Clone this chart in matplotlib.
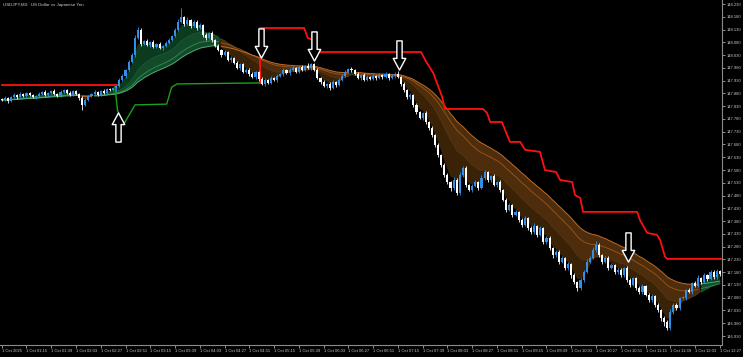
import numpy as np
import matplotlib
matplotlib.use("Agg")
import matplotlib.pyplot as plt
import matplotlib.transforms as mtransforms
from matplotlib.path import Path

# ------------------------------------
# chart data
# ------------------------------------
title = "USDJPY,M3:  US Dollar vs Japanese Yen"

first_open = 147.858
closes = [
    147.854, 147.862, 147.851, 147.866, 147.874, 147.866, 147.878, 147.870, 147.882, 147.874, 147.866,
    147.870, 147.878, 147.886, 147.874, 147.882, 147.890, 147.878, 147.870, 147.886, 147.894,
    147.882, 147.874, 147.890, 147.878, 147.862, 147.835,
    147.854, 147.870, 147.878, 147.886, 147.874,
    147.890, 147.882, 147.897, 147.894, 147.901, 147.909,
    147.933, 147.948, 147.972, 148.003, 148.031,
    148.097, 148.129, 148.074, 148.085,
    148.070, 148.082, 148.062, 148.074, 148.058, 148.066,
    148.078, 148.089, 148.105, 148.129,
    148.160, 148.179, 148.152,
    148.168, 148.144, 148.160, 148.136, 148.148,
    148.109, 148.097, 148.117, 148.089,
    148.066, 148.050, 148.031, 148.042, 148.011, 148.019,
    147.999, 147.980, 147.995, 147.964, 147.972, 147.956,
    147.944, 147.964, 147.937, 147.917, 147.933,
    147.921, 147.941, 147.933, 147.948, 147.956, 147.972, 147.960,
    147.972, 147.980, 147.964, 147.984, 147.972, 147.988, 147.980, 147.995,
    147.972, 147.941, 147.925, 147.909, 147.917, 147.901,
    147.925, 147.913, 147.933, 147.948, 147.964, 147.976,
    147.972, 147.956, 147.941, 147.952, 147.933, 147.944,
    147.937, 147.948, 147.941, 147.952, 147.944, 147.956, 147.941, 147.948, 147.956,
    147.944, 147.917, 147.894, 147.866, 147.874, 147.835,
    147.807, 147.784, 147.803, 147.768, 147.745, 147.717,
    147.678, 147.639, 147.600, 147.561, 147.533, 147.510,
    147.541, 147.490, 147.561, 147.588, 147.522,
    147.502, 147.518, 147.533, 147.510, 147.549, 147.572,
    147.541, 147.557, 147.522, 147.533, 147.502,
    147.463, 147.424, 147.443, 147.404, 147.416, 147.384,
    147.365, 147.392, 147.353, 147.337, 147.361, 147.326,
    147.353, 147.298, 147.314, 147.275, 147.247,
    147.259, 147.220, 147.236, 147.197, 147.212, 147.169,
    147.142, 147.118, 147.150, 147.181, 147.220,
    147.236, 147.267, 147.287, 147.247, 147.220,
    147.236, 147.197, 147.208, 147.181, 147.189,
    147.169, 147.197, 147.150, 147.130, 147.157,
    147.118, 147.103, 147.126, 147.091, 147.071,
    147.087, 147.052, 147.032, 147.001, 146.985,
    146.962, 147.024, 147.052, 147.040, 147.079,
    147.079, 147.110, 147.103, 147.138, 147.126,
    147.157, 147.142, 147.169, 147.153, 147.181, 147.161, 147.185, 147.173,
]

# wick lengths above / below the body, in points (0.001)
wick_up = [
    4, 6, 3, 5, 8, 4, 6, 3, 5, 4,
    3, 5, 7, 4, 6, 3, 5, 8, 4, 6,
    5, 3, 6, 4, 5, 4, 6, 8, 5, 4,
    6, 3, 5, 7, 4, 6, 5, 4, 8, 6,
    5, 9, 7, 10, 12, 6, 5, 8, 4, 6,
    5, 7, 4, 6, 8, 5, 9, 10, 35, 6,
    12, 5, 8, 6, 7, 4, 9, 5, 6, 4,
    6, 5, 8, 4, 7, 5, 6, 4, 5, 8,
    6, 9, 5, 4, 7, 6, 5, 8, 4, 6,
    5, 7, 4, 6, 8, 5, 9, 6, 4, 12,
    5, 4, 6, 5, 7, 4, 6, 8, 5, 6,
    7, 9, 5, 6, 4, 7, 5, 6, 8, 4,
    6, 5, 7, 4, 6, 5, 8, 6, 10, 5,
    6, 4, 8, 5, 7, 6, 4, 9, 5, 6,
    5, 7, 4, 6, 8, 5, 12, 6, 10, 8,
    6, 5, 9, 7, 5, 10, 8, 6, 5, 7,
    4, 6, 5, 8, 7, 5, 6, 4, 8, 9,
    5, 6, 10, 4, 7, 5, 8, 6, 5, 9,
    6, 8, 5, 7, 4, 6, 5, 9, 8, 12,
    7, 10, 14, 6, 5, 8, 6, 7, 5, 6,
    8, 5, 7, 9, 6, 5, 8, 6, 4, 7,
    6, 5, 7, 4, 6, 8, 10, 6, 7, 5,
    8, 6, 9, 5, 7, 10, 6, 8, 5, 9,
    6, 8, 5,
]
wick_dn = [
    5, 4, 7, 3, 5, 6, 4, 5, 3, 6,
    4, 6, 3, 5, 4, 7, 5, 3, 6, 4,
    5, 4, 6, 3, 5, 8, 20, 5, 4, 6,
    4, 5, 3, 6, 4, 5, 6, 10, 5, 4,
    6, 5, 4, 7, 5, 8, 6, 5, 7, 4,
    6, 5, 7, 4, 6, 5, 4, 6, 5, 8,
    5, 7, 4, 6, 5, 8, 6, 5, 7, 6,
    5, 8, 6, 4, 7, 5, 6, 8, 5, 6,
    7, 5, 6, 9, 5, 7, 4, 6, 5, 7,
    4, 6, 5, 7, 4, 6, 5, 4, 6, 5,
    7, 5, 6, 8, 5, 9, 6, 5, 7, 4,
    6, 5, 4, 7, 5, 6, 8, 5, 6, 4,
    5, 7, 4, 6, 5, 7, 4, 6, 5, 8,
    9, 6, 7, 10, 8, 6, 9, 7, 8, 6,
    9, 7, 10, 8, 6, 12, 7, 9, 6, 8,
    7, 5, 8, 6, 9, 5, 7, 6, 8, 5,
    7, 10, 6, 8, 5, 9, 6, 8, 7, 5,
    8, 6, 7, 9, 5, 8, 6, 7, 10, 6,
    8, 6, 9, 7, 12, 8, 10, 6, 7, 5,
    6, 5, 8, 6, 7, 5, 9, 6, 8, 7,
    6, 9, 7, 10, 6, 8, 7, 9, 6, 8,
    7, 9, 8, 12, 15, 10, 8, 6, 7, 9,
    6, 8, 5, 7, 6, 5, 8, 6, 7, 5,
    8, 6, 7,
]

time_labels = [
    "1 Oct 2025", "1 Oct 01:15", "1 Oct 01:39", "1 Oct 02:03", "1 Oct 02:27",
    "1 Oct 02:51", "1 Oct 03:15", "1 Oct 03:39", "1 Oct 04:03", "1 Oct 04:27",
    "1 Oct 04:51", "1 Oct 05:15", "1 Oct 05:39", "1 Oct 06:03", "1 Oct 06:27",
    "1 Oct 06:51", "1 Oct 07:15", "1 Oct 07:39", "1 Oct 08:03", "1 Oct 08:27",
    "1 Oct 08:51", "1 Oct 09:15", "1 Oct 09:39", "1 Oct 10:03", "1 Oct 10:27",
    "1 Oct 10:51", "1 Oct 11:15", "1 Oct 11:39", "1 Oct 12:03", "1 Oct 12:27",
]
price_ticks = [
    148.230, 148.180, 148.130, 148.080, 148.030, 147.980, 147.930, 147.880,
    147.830, 147.780, 147.730, 147.680, 147.630, 147.580, 147.530, 147.480,
    147.430, 147.380, 147.330, 147.280, 147.230, 147.180, 147.130, 147.080,
    147.030, 146.980, 146.930,
]

# trailing stop line (bar index, price)
red_a_bar = [0, 37.6]
red_a_px = [147.913, 147.913]
green_bar = [36.6, 37.4, 39.3, 43.1, 53.3, 54.9, 56.6, 83.5]
green_px = [147.906, 147.815, 147.757, 147.835, 147.838, 147.904, 147.917, 147.921]
red_b_bar = [83.5, 83.5, 97.7, 98.9, 100.6, 102.2, 135.5, 136.8, 139.4, 142.3,
             143.2, 155.5, 156.8, 157.8, 161.6, 162.6, 164.2, 167.5, 169.1, 173.9,
             175.5, 179.1, 180.4, 184.3, 185.2, 186.9, 187.8, 205.3, 206.2, 208.5,
             211.7, 212.7, 214.3, 215.0, 233.0]
red_b_px = [147.921, 148.136, 148.136, 148.097, 148.089, 148.042, 148.042, 148.011, 147.960, 147.866,
            147.819, 147.819, 147.803, 147.768, 147.768, 147.737, 147.690, 147.690, 147.659, 147.651,
            147.580, 147.572, 147.541, 147.533, 147.482, 147.471, 147.416, 147.416, 147.384, 147.334,
            147.326, 147.306, 147.240, 147.232, 147.232]

# signal arrows (bar index, price at arrow centre)
arrow_bar = [37.6, 83.8, 101.0, 128.4, 202.4]
arrow_px = [147.749, 148.078, 148.064, 148.029, 147.277]
arrow_dir = ["up", "down", "down", "down", "down"]


def ema(v, n):
    a = 2.0 / (n + 1)
    out = np.empty(len(v))
    out[0] = v[0]
    for i in range(1, len(v)):
        out[i] = a * v[i] + (1 - a) * out[i - 1]
    return out


c = np.array(closes)
o = np.r_[first_open, c[:-1]]
hi = np.maximum(o, c) + np.array(wick_up) * 0.001
lo = np.minimum(o, c) - np.array(wick_dn) * 0.001
x = np.arange(len(c))

e_fast = ema(c, 4)
e_m1 = ema(c, 16)
e_m2 = ema(c, 28)
e_slow = ema(c, 36)
bull = e_fast >= e_slow

blue = "#2f8fea"
fnt = "Liberation Sans"
fig = plt.figure(figsize=(7.43, 3.57), dpi=100, facecolor="black")
ax = fig.add_axes([0, 12 / 357, 722 / 743, 345 / 357])
ax.set_facecolor("black")

# ribbon
ax.fill_between(x, e_fast, e_m1, where=bull, interpolate=True, color="#0b3a1f", lw=0, zorder=1)
ax.fill_between(x, e_m1, e_slow, where=bull, interpolate=True, color="#124a2a", lw=0, zorder=1)
ax.fill_between(x, e_fast, e_m1, where=~bull, interpolate=True, color="#3a2207", lw=0, zorder=1)
ax.fill_between(x, e_m1, e_slow, where=~bull, interpolate=True, color="#4d2d0c", lw=0, zorder=1)
for line, gcol, ocol in [(e_m1, "#195a33", "#5a3410"), (e_m2, "#2f8552", "#94511a"),
                         (e_slow, "#4fae74", "#c06a28")]:
    ax.plot(x, np.where(bull, line, np.nan), color=gcol, lw=0.7, zorder=2)
    ax.plot(x, np.where(~bull, line, np.nan), color=ocol, lw=0.7, zorder=2)

# stop lines
ax.plot(red_a_bar, red_a_px, color="#ff1010", lw=1.3, zorder=3)
ax.plot(green_bar, green_px, color="#1aa01a", lw=1.0, zorder=3)
ax.plot(red_b_bar, red_b_px, color="#ff1010", lw=1.3, zorder=3)

# candles
cols = np.where(c >= o, blue, "white")
ax.vlines(x, lo, hi, colors=cols, lw=0.6, zorder=4)
ax.bar(x, np.maximum(np.abs(c - o), 0.002), bottom=np.minimum(o, c), width=0.68,
       color=cols, lw=0, zorder=4)

# arrows
up_verts = [(0, 1), (0.43, 0.2), (0.18, 0.2), (0.18, -1), (-0.18, -1), (-0.18, 0.2), (-0.43, 0.2), (0, 1)]
codes = [Path.MOVETO] + [Path.LINETO] * 6 + [Path.CLOSEPOLY]
up_arrow = Path(up_verts, codes)
down_arrow = Path([(vx, -vy) for vx, vy in up_verts], codes)
for b, p, d in zip(arrow_bar, arrow_px, arrow_dir):
    ax.plot([b], [p], marker=up_arrow if d == "up" else down_arrow, ms=21,
            mfc="black", mec="white", mew=1.0, zorder=5)

ax.set_xlim(-0.55, 232.7)
ax.set_ylim(146.8948, 148.2457)

ax.yaxis.tick_right()
ax.set_yticks(price_ticks)
ax.set_yticklabels(["%.3f" % t for t in price_ticks], fontfamily=fnt)
ax.set_xticks(np.arange(0, len(c), 8))
ax.set_xticklabels(time_labels, ha="left", fontfamily=fnt)
shift = mtransforms.ScaledTranslation(1.2 / 72, 0, fig.dpi_scale_trans)
for lbl in ax.get_xticklabels():
    lbl.set_transform(lbl.get_transform() + shift)
ax.tick_params(colors="#c8c8c8", labelsize=3.0, length=2.2, width=0.5, pad=1.0)
for s in ["left", "top"]:
    ax.spines[s].set_visible(False)
for s in ["right", "bottom"]:
    ax.spines[s].set_color("#8a8a8a")
    ax.spines[s].set_linewidth(0.8)

ax.text(0.004, 0.99, title, transform=ax.transAxes, fontsize=3.2, fontfamily=fnt,
        color="#d0d0d0", va="top", ha="left")

fig.savefig("out.png", dpi=100, facecolor="black")
